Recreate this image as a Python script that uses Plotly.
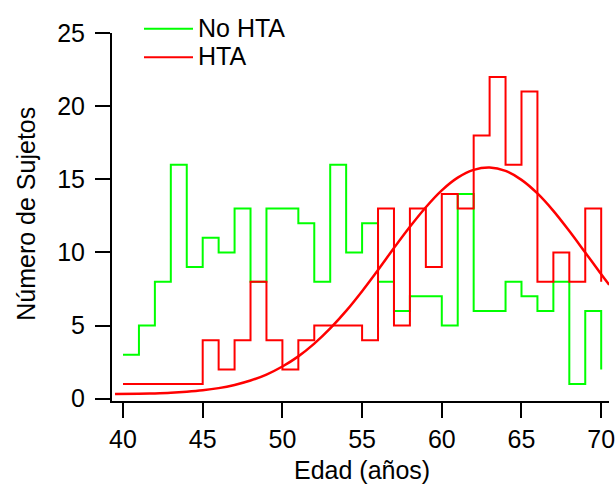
import plotly.graph_objects as go

# ---- data ----
edad = list(range(40, 71))
no_hta = [3, 5, 8, 16, 9, 11, 10, 13, 8, 13, 13, 12, 8, 16, 10, 12, 8, 6, 7, 7,
          5, 14, 6, 6, 8, 7, 6, 8, 1, 6, 2]
hta = [1, 1, 1, 1, 1, 4, 2, 4, 8, 4, 2, 4, 5, 5, 5, 4, 13, 5, 13, 9,
       14, 13, 18, 22, 16, 21, 8, 10, 8, 13, 8]

# Gaussian fit curve of the HTA histogram
fit_x = [39.5, 41, 42, 43, 44, 45, 46, 47, 48, 49, 50, 51, 52, 53, 54, 55, 56, 57,
         58, 59, 60, 61, 62, 63, 64, 65, 66, 67, 68, 69, 70, 70.5]
fit_y = [0.32, 0.34, 0.36, 0.40, 0.47, 0.57, 0.72, 0.94, 1.24, 1.65, 2.20, 2.89,
         3.76, 4.80, 6.00, 7.35, 8.80, 10.30, 11.75, 13.09, 14.24, 15.11, 15.64,
         15.80, 15.57, 14.96, 14.03, 12.84, 11.46, 9.99, 8.51, 7.78]

series_names = ["No HTA", "HTA"]
x_ticks = [40, 45, 50, 55, 60, 65, 70]
y_ticks = [0, 5, 10, 15, 20, 25]
x_title = "Edad (años)"
y_title = "Número de Sujetos"

GREEN = "#00FF00"
RED = "#FF0000"
FONT = "Liberation Sans, Arial, Helvetica, sans-serif"
FS = 25

fig = go.Figure()
fig.add_trace(go.Scatter(x=edad, y=no_hta, mode="lines", line_shape="hv",
                         line=dict(color=GREEN, width=2), name=series_names[0],
                         showlegend=False))
fig.add_trace(go.Scatter(x=edad, y=hta, mode="lines", line_shape="hv",
                         line=dict(color=RED, width=2), name=series_names[1],
                         showlegend=False))
fig.add_trace(go.Scatter(x=fit_x, y=fit_y, mode="lines", line_shape="spline",
                         line=dict(color=RED, width=2.5), showlegend=False))

# page geometry (pixels); body margin is removed below
W, H = 615, 487
PL, PR, PT, PB = 112, 609, 33, 401.5   # plot area
L, T, R, B = PL, PT, W - PR, H - PB
pw, ph = PR - PL, PB - PT

def px(x):
    return (x - PL) / pw

def py(y):
    return (PB - y) / ph

# manual legend
for i, (name, col) in enumerate(zip(series_names, [GREEN, RED])):
    yy = 28.7 + i * 28.6
    fig.add_shape(type="line", xref="paper", yref="paper",
                  x0=px(144), x1=px(193), y0=py(yy), y1=py(yy),
                  line=dict(color=col, width=2))
    fig.add_annotation(xref="paper", yref="paper", x=px(196), y=py(yy - 1),
                       text=name, showarrow=False, xanchor="left", yanchor="middle",
                       font=dict(size=FS, color="black", family=FONT))

# axis titles
fig.add_annotation(xref="paper", yref="paper", x=px(362), y=py(471),
                   text=x_title, showarrow=False, xanchor="center", yanchor="middle",
                   font=dict(size=FS, color="black", family=FONT))
fig.add_annotation(xref="paper", yref="paper", x=px(26), y=py(214),
                   text=y_title, showarrow=False, textangle=-90,
                   xanchor="center", yanchor="middle",
                   font=dict(size=FS, color="black", family=FONT))

axis_common = dict(showgrid=False, zeroline=False, showline=True, linecolor="black",
                   linewidth=2, ticks="outside", ticklen=15, tickwidth=2,
                   tickcolor="black", automargin=False, ticklabeloverflow="allow",
                   tickfont=dict(size=FS, color="black", family=FONT))

fig.update_layout(
    width=W, height=H,
    margin=dict(l=L, r=R, t=T, b=B, pad=0, autoexpand=False),
    paper_bgcolor="white", plot_bgcolor="white",
    font=dict(family=FONT, color="black"),
    xaxis=dict(range=[39.31, 70.49], tickmode="array", tickvals=x_ticks, **axis_common),
    yaxis=dict(range=[-0.16, 25.0], tickmode="array", tickvals=y_ticks,
               ticklabelstandoff=5, **axis_common),
)

fig.write_html(
    "out.html",
    config={"displayModeBar": False},
    post_script="document.body.style.margin='0';document.body.style.overflow='hidden';",
)
